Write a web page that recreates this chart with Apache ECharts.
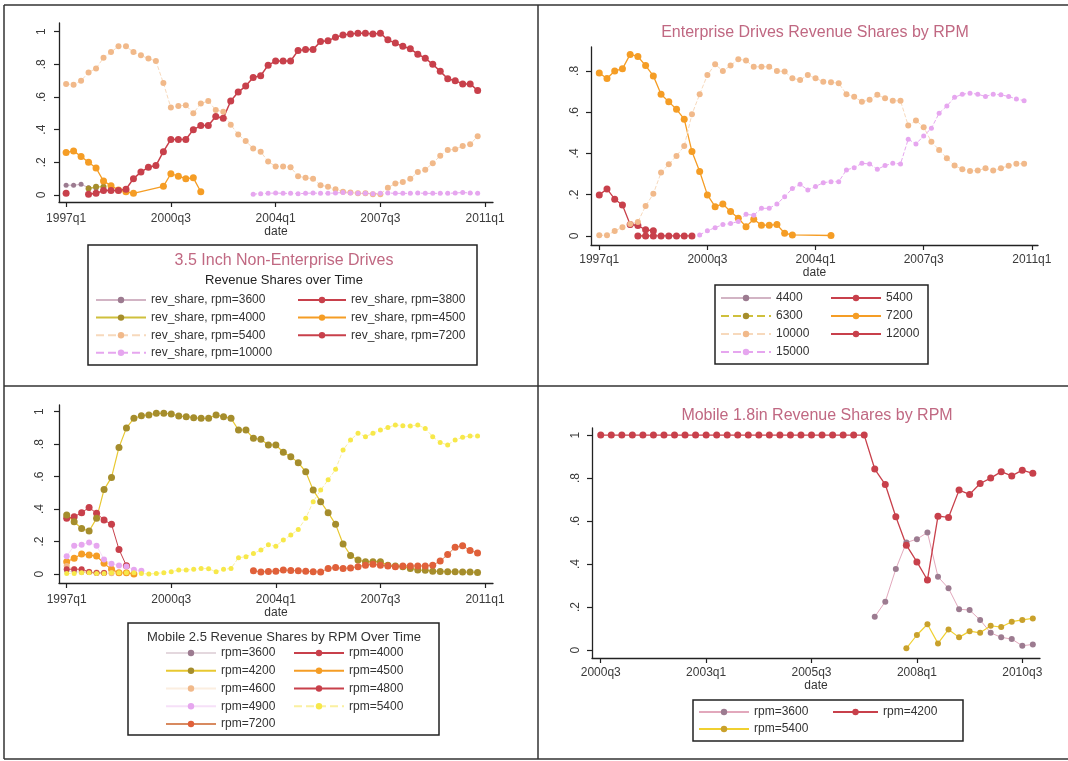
<!DOCTYPE html>
<html>
<head>
<meta charset="utf-8">
<title>Revenue shares by RPM</title>
<script src="https://cdn.jsdelivr.net/npm/echarts@6/dist/echarts.min.js"></script>
<style>
  html, body { margin: 0; padding: 0; background: #fff; }
  #chart { width: 1068px; height: 761px; }
</style>
</head>
<body>
<div id="chart"></div>
<script>
// quarter labels, tick labels
function quarterLabels(y, q, n) {
  const out = [];
  for (let i = 0; i < n; i++) {
    out.push(y + 'q' + q);
    q++;
    if (q > 4) { q = 1; y++; }
  }
  return out;
}
const quarters97 = quarterLabels(1997, 1, 57); // 1997q1 .. 2011q1
const quarters00 = quarterLabels(2000, 3, 43); // 2000q3 .. 2011q1
const ticks97 = ['1997q1', '2000q3', '2004q1', '2007q3', '2011q1'];
const ticks00 = ['2000q3', '2003q1', '2005q3', '2008q1', '2010q3'];
const yTicks = [0, 0.2, 0.4, 0.6, 0.8, 1];
const yTicksEnt = [0, 0.2, 0.4, 0.6, 0.8];

// leading quarters with no value
const pad = (n, arr) => new Array(n).fill(null).concat(arr);

// 3.5 inch non-enterprise drives (from 1997q1)
const ne3600 = [0.06, 0.06, 0.065, 0.045, 0.04];
const ne3800 = [0.01];
const ne4000 = pad(3, [0.04, 0.05, 0.05]);
const ne4500 = [0.26, 0.27, 0.235, 0.2, 0.165, 0.085, 0.057, 0.03, 0.02, 0.01, null, null, null, 0.053, 0.13, 0.115, 0.10, 0.105, 0.02];
const ne5400 = [0.68, 0.675, 0.70, 0.75, 0.775, 0.84, 0.875, 0.91, 0.91, 0.875, 0.855, 0.835, 0.82, 0.685, 0.535, 0.545, 0.55, 0.50, 0.56, 0.575,
  0.52, 0.51, 0.43, 0.37, 0.33, 0.285, 0.265, 0.205, 0.175, 0.175, 0.17, 0.115, 0.105, 0.10, 0.06, 0.05, 0.035, 0.02, 0.015, 0.01,
  0.01, 0.005, 0.005, 0.045, 0.07, 0.08, 0.10, 0.14, 0.155, 0.195, 0.24, 0.275, 0.28, 0.30, 0.31, 0.36];
const ne7200 = pad(3, [0.005, 0.01, 0.027, 0.027, 0.027, 0.035, 0.10, 0.14, 0.17, 0.18, 0.265, 0.34, 0.34, 0.34, 0.40, 0.425, 0.425,
  0.48, 0.47, 0.575, 0.63, 0.667, 0.72, 0.73, 0.795, 0.82, 0.82, 0.82, 0.884, 0.89, 0.89, 0.94, 0.945, 0.965, 0.98, 0.985, 0.99,
  0.99, 0.985, 0.99, 0.95, 0.93, 0.91, 0.895, 0.862, 0.837, 0.80, 0.757, 0.712, 0.70, 0.68, 0.68, 0.64]);
const ne10000 = pad(25, [0.005, 0.008, 0.01, 0.012, 0.01, 0.01, 0.008, 0.01, 0.012, 0.01, 0.01, 0.012, 0.015, 0.012, 0.01, 0.01,
  0.008, 0.01, 0.012, 0.01, 0.01, 0.01, 0.012, 0.01, 0.01, 0.01, 0.01, 0.012, 0.015, 0.012, 0.01]);

// enterprise drives (from 1997q1)
const ent4400 = pad(4, [0.05, 0.06]);
const ent5400 = [0.199, 0.228, 0.178, 0.15, 0.055, 0.05, 0.03, 0.025];
const ent6300 = pad(5, [0, 0]);
const ent7200 = [0.79, 0.763, 0.80, 0.81, 0.88, 0.87, 0.826, 0.776, 0.687, 0.65, 0.614, 0.566, 0.409, 0.312, 0.199, 0.142, 0.155,
  0.118, 0.086, 0.045, 0.081, 0.052, 0.052, 0.055, 0.013, 0.005, null, null, null, null, 0.002];
const ent10000 = [0.003, 0.003, 0.024, 0.042, 0.058, 0.068, 0.145, 0.204, 0.307, 0.347, 0.388, 0.436, 0.59, 0.687, 0.78, 0.832,
  0.80, 0.826, 0.857, 0.85, 0.82, 0.82, 0.82, 0.80, 0.797, 0.764, 0.756, 0.78, 0.764, 0.748, 0.745, 0.74, 0.687, 0.675, 0.65,
  0.66, 0.684, 0.667, 0.655, 0.655, 0.535, 0.56, 0.527, 0.457, 0.417, 0.377, 0.341, 0.323, 0.315, 0.317, 0.328, 0.317, 0.328,
  0.34, 0.35, 0.35];
const ent12000 = pad(5, [0, 0, 0, 0, 0, 0, 0, 0]);
const ent15000 = pad(13, [0.005, 0.025, 0.04, 0.055, 0.06, 0.07, 0.105, 0.10, 0.134, 0.134, 0.155, 0.19, 0.23, 0.25, 0.223, 0.24,
  0.258, 0.263, 0.263, 0.32, 0.331, 0.352, 0.349, 0.323, 0.341, 0.352, 0.349, 0.469, 0.446, 0.485, 0.522, 0.595, 0.63, 0.672,
  0.687, 0.692, 0.687, 0.676, 0.687, 0.684, 0.676, 0.664, 0.656]);

// mobile 2.5 (from 1997q1)
const m25_3600 = [0.02, 0.015, 0.01, 0.01, 0.008, 0.005, 0.005];
const m25_4000 = [0.343, 0.353, 0.378, 0.41, 0.374, 0.333, 0.306, 0.152, 0.051];
const m25_4200 = [0.363, 0.322, 0.28, 0.265, 0.343, 0.52, 0.595, 0.78, 0.90, 0.959, 0.975, 0.98, 0.99, 0.99, 0.986, 0.973, 0.969,
  0.963, 0.959, 0.959, 0.98, 0.969, 0.959, 0.887, 0.887, 0.836, 0.83, 0.795, 0.795, 0.75, 0.723, 0.686, 0.63, 0.517, 0.446,
  0.378, 0.306, 0.185, 0.115, 0.086, 0.076, 0.076, 0.076, 0.055, 0.049, 0.045, 0.035, 0.025, 0.023, 0.018, 0.016, 0.014,
  0.014, 0.012, 0.012, 0.01];
const m25_4500 = [0.076, 0.097, 0.123, 0.117, 0.111, 0.066, 0.029, 0.008, 0.008, 0.0];
const m25_4600 = [0.05, 0.03, 0.02, 0.015, 0.01, 0.008, 0.005];
const m25_4800 = [0.03, 0.03, 0.03, 0.012, 0.006, 0.006];
const m25_4900 = [0.11, 0.175, 0.18, 0.195, 0.175, 0.09, 0.063, 0.053, 0.047, 0.027, 0.02];
const m25_5400 = [0.004, 0.004, 0.008, 0.008, 0.004, 0.004, 0.008, 0.008, 0.008, 0.008, 0.004, 0.0, 0.004, 0.008, 0.014, 0.025,
  0.025, 0.029, 0.035, 0.033, 0.014, 0.029, 0.035, 0.10, 0.107, 0.127, 0.148, 0.18, 0.172, 0.21, 0.24, 0.275, 0.343, 0.446,
  0.517, 0.58, 0.645, 0.764, 0.826, 0.867, 0.846, 0.867, 0.887, 0.903, 0.918, 0.914, 0.912, 0.918, 0.897, 0.846, 0.81, 0.795,
  0.826, 0.842, 0.85, 0.85];
const m25_7200 = pad(25, [0.02, 0.013, 0.016, 0.018, 0.025, 0.022, 0.02, 0.018, 0.015, 0.012, 0.035, 0.04, 0.035, 0.038, 0.045,
  0.055, 0.06, 0.055, 0.05, 0.045, 0.05, 0.05, 0.05, 0.05, 0.055, 0.08, 0.12, 0.165, 0.175, 0.145, 0.13]);

// mobile 1.8 (from 2000q3)
const m18_3600 = pad(26, [0.155, 0.225, 0.377, 0.50, 0.516, 0.547, 0.341, 0.287, 0.19, 0.186, 0.14, 0.08, 0.059, 0.051, 0.02, 0.026]);
const m18_4200 = [1, 1, 1, 1, 1, 1, 1, 1, 1, 1, 1, 1, 1, 1, 1, 1, 1, 1, 1, 1, 1, 1, 1, 1, 1, 1,
  0.842, 0.77, 0.62, 0.488, 0.41, 0.326, 0.623, 0.617, 0.744, 0.724, 0.775, 0.80, 0.83, 0.81, 0.837, 0.822];
const m18_5400 = pad(29, [0.008, 0.07, 0.12, 0.031, 0.096, 0.059, 0.088, 0.08, 0.113, 0.107, 0.132, 0.14, 0.147]);

const FONT = 'Liberation Sans, Arial, sans-serif';
const INK = '#222';
const TITLE = '#c06882';
const C = {
  mauve: '#9c7b90', mauveLine: '#d2b4c4', red: '#c8404b', olive: '#a58d2c', oliveLine: '#cfc03c',
  orange: '#f59d25', peach: '#f1b98a', peachLine: '#f7d9bc', lilac: '#e6a6ef', yellow: '#f7e84a',
  yellowLine: '#faf0a0', redOrange: '#e0603a', brownLine: '#d88a60', gold: '#c9a12c', goldLine: '#f0d030'
};

function series(name, values, g, dot, lineColor, opts) {
  opts = opts || {};
  return {
    type: 'line', name: name, xAxisIndex: g, yAxisIndex: g,
    data: values.map((v, i) => [i, v == null ? '-' : v]),
    symbol: 'circle', symbolSize: opts.size || 6, showAllSymbol: true,
    connectNulls: true, animation: false, silent: true,
    itemStyle: { color: dot },
    lineStyle: { color: lineColor, width: opts.width || 1.2, type: opts.dash ? 'dashed' : 'solid' }
  };
}

const yLabel = v => (v === 0 ? '0' : v === 1 ? '1' : String(v).replace(/^0/, ''));
function xAxis(g, min, max, quarters, ticks, margin, nameGap) {
  const pos = ticks.map(t => quarters.indexOf(t));
  return {
    type: 'value', gridIndex: g, min: min, max: max,
    axisLine: { onZero: false, lineStyle: { color: INK, width: 1.3 } },
    axisTick: { customValues: pos, length: 5, lineStyle: { color: INK, width: 1.2 } },
    axisLabel: { customValues: pos, formatter: v => quarters[Math.round(v)], fontSize: 12, color: '#3a3a3a', margin: margin, fontFamily: FONT },
    splitLine: { show: false },
    name: 'date', nameLocation: 'middle', nameGap: nameGap,
    nameTextStyle: { fontSize: 12, color: '#333', fontFamily: FONT }
  };
}
function yAxis(g, min, max, ticks, margin) {
  return {
    type: 'value', gridIndex: g, min: min, max: max,
    axisLine: { show: true, onZero: false, lineStyle: { color: INK, width: 1.3 } },
    axisTick: { show: true, customValues: ticks, length: 5, lineStyle: { color: INK, width: 1.2 } },
    axisLabel: { customValues: ticks, formatter: yLabel, rotate: 90, fontSize: 12, color: '#3a3a3a', margin: margin, fontFamily: FONT },
    splitLine: { show: false }
  };
}
function legend(names, left, top, gap, itemWidth) {
  return {
    orient: 'vertical', left: left, top: top, itemGap: gap, itemWidth: itemWidth, itemHeight: 8,
    selectedMode: false, padding: 0, data: names,
    formatter: n => n.replace(/^p\d /, ''),
    textStyle: { fontSize: 12, color: '#333', lineHeight: 14, fontFamily: FONT }
  };
}
const box = (x1, y1, x2, y2) => ({ type: 'rect', shape: { x: x1, y: y1, width: x2 - x1, height: y2 - y1 }, style: { fill: 'none', stroke: INK, lineWidth: 1.5 } });
const rule = (x1, y1, x2, y2) => ({ type: 'line', shape: { x1: x1, y1: y1, x2: x2, y2: y2 }, style: { stroke: '#333', lineWidth: 1.5 } });
const label = (text, x, y, size, color) => ({ type: 'text', x: x, y: y, style: { text: text, font: size + 'px ' + FONT, fill: color, textAlign: 'center', textVerticalAlign: 'middle' } });

const chart = echarts.init(document.getElementById('chart'));
chart.setOption({
  animation: false,
  backgroundColor: '#fff',
  textStyle: { fontFamily: FONT },
  grid: [
    { left: 59, top: 23, width: 434, height: 179 },
    { left: 591, top: 47, width: 447, height: 198 },
    { left: 59, top: 405, width: 434, height: 178 },
    { left: 592, top: 428, width: 448, height: 230 }
  ],
  xAxis: [
    xAxis(0, -0.95, 57.05, quarters97, ticks97, 11, 23),
    xAxis(1, -1.07, 56.8, quarters97, ticks97, 9, 21),
    xAxis(2, -1.03, 57.07, quarters97, ticks97, 11, 22),
    xAxis(3, -0.83, 41.68, quarters00, ticks00, 9, 21)
  ],
  yAxis: [
    yAxis(0, -0.043, 1.053, yTicks, 11),
    yAxis(1, -0.044, 0.916, yTicksEnt, 10),
    yAxis(2, -0.055, 1.041, yTicks, 13),
    yAxis(3, -0.037, 1.033, yTicks, 10)
  ],
  legend: [
    legend(['p1 rev_share, rpm=3600', 'p1 rev_share, rpm=4000', 'p1 rev_share, rpm=5400', 'p1 rev_share, rpm=10000'], 95, 293, 3.6, 50),
    legend(['p1 rev_share, rpm=3800', 'p1 rev_share, rpm=4500', 'p1 rev_share, rpm=7200'], 297, 293, 3.6, 48),
    legend(['p2 4400', 'p2 6300', 'p2 10000', 'p2 15000'], 720, 291, 4, 50),
    legend(['p2 5400', 'p2 7200', 'p2 12000'], 830, 291, 4, 50),
    legend(['p3 rpm=3600', 'p3 rpm=4200', 'p3 rpm=4600', 'p3 rpm=4900', 'p3 rpm=7200'], 165, 646, 3.75, 50),
    legend(['p3 rpm=4000', 'p3 rpm=4500', 'p3 rpm=4800', 'p3 rpm=5400'], 293, 646, 3.75, 50),
    legend(['p4 rpm=3600', 'p4 rpm=5400'], 698, 705, 3, 50),
    legend(['p4 rpm=4200'], 832, 705, 3, 45)
  ],
  graphic: [
    rule(4, 5, 1068, 5), rule(4, 5, 4, 759), rule(4, 759, 1068, 759),
    rule(538, 5, 538, 759), rule(4, 386, 1068, 386),
    box(88, 245, 477, 365), box(715, 285, 928, 364), box(128, 623, 439, 735), box(693, 700, 963, 741),
    label('3.5 Inch Non-Enterprise Drives', 284, 261, 16, TITLE),
    label('Revenue Shares over Time', 284, 280, 13, '#222'),
    label('Enterprise Drives Revenue Shares by RPM', 815, 33, 16, TITLE),
    label('Mobile 2.5 Revenue Shares by RPM Over Time', 284, 637, 13, '#333'),
    label('Mobile 1.8in Revenue Shares by RPM', 817, 416, 16, TITLE)
  ],
  series: [
    series('p1 rev_share, rpm=3600', ne3600, 0, C.mauve, C.mauveLine, { size: 5, width: 1 }),
    series('p1 rev_share, rpm=3800', ne3800, 0, C.red, C.red, { size: 7, width: 1.5 }),
    series('p1 rev_share, rpm=4000', ne4000, 0, C.olive, C.oliveLine, { size: 6 }),
    series('p1 rev_share, rpm=4500', ne4500, 0, C.orange, C.orange, { size: 7, width: 1.3 }),
    series('p1 rev_share, rpm=5400', ne5400, 0, C.peach, C.peachLine, { size: 6, width: 1, dash: true }),
    series('p1 rev_share, rpm=7200', ne7200, 0, C.red, C.red, { size: 7, width: 1.5 }),
    series('p1 rev_share, rpm=10000', ne10000, 0, C.lilac, C.lilac, { size: 5, width: 1, dash: true }),

    series('p2 4400', ent4400, 1, C.mauve, C.mauveLine, { size: 5, width: 1 }),
    series('p2 5400', ent5400, 1, C.red, C.red, { size: 7, width: 1.3 }),
    series('p2 6300', ent6300, 1, C.olive, C.oliveLine, { size: 6, dash: true }),
    series('p2 7200', ent7200, 1, C.orange, C.orange, { size: 7, width: 1.3 }),
    series('p2 10000', ent10000, 1, C.peach, C.peachLine, { size: 6, width: 1, dash: true }),
    series('p2 12000', ent12000, 1, C.red, C.red, { size: 7, width: 1.3 }),
    series('p2 15000', ent15000, 1, C.lilac, C.lilac, { size: 5, width: 1, dash: true }),

    series('p3 rpm=3600', m25_3600, 2, C.mauve, '#e4d8de', { size: 5, width: 1 }),
    series('p3 rpm=4000', m25_4000, 2, C.red, C.red, { size: 7, width: 1 }),
    series('p3 rpm=4200', m25_4200, 2, C.olive, '#e8c830', { size: 7, width: 1.2 }),
    series('p3 rpm=4500', m25_4500, 2, C.orange, C.orange, { size: 7, width: 1.2 }),
    series('p3 rpm=4600', m25_4600, 2, C.peach, '#fbeee0', { size: 6, width: 1 }),
    series('p3 rpm=4800', m25_4800, 2, C.red, C.red, { size: 6, width: 1 }),
    series('p3 rpm=4900', m25_4900, 2, C.lilac, '#f6e0f8', { size: 6, width: 1 }),
    series('p3 rpm=5400', m25_5400, 2, C.yellow, C.yellowLine, { size: 5, width: 1, dash: true }),
    series('p3 rpm=7200', m25_7200, 2, C.redOrange, C.brownLine, { size: 7, width: 1 }),

    series('p4 rpm=3600', m18_3600, 3, C.mauve, '#e2a8bc', { size: 6, width: 1 }),
    series('p4 rpm=4200', m18_4200, 3, C.red, C.red, { size: 7, width: 1.3 }),
    series('p4 rpm=5400', m18_5400, 3, C.gold, C.goldLine, { size: 6, width: 1.2 })
  ]
});
</script>
</body>
</html>
